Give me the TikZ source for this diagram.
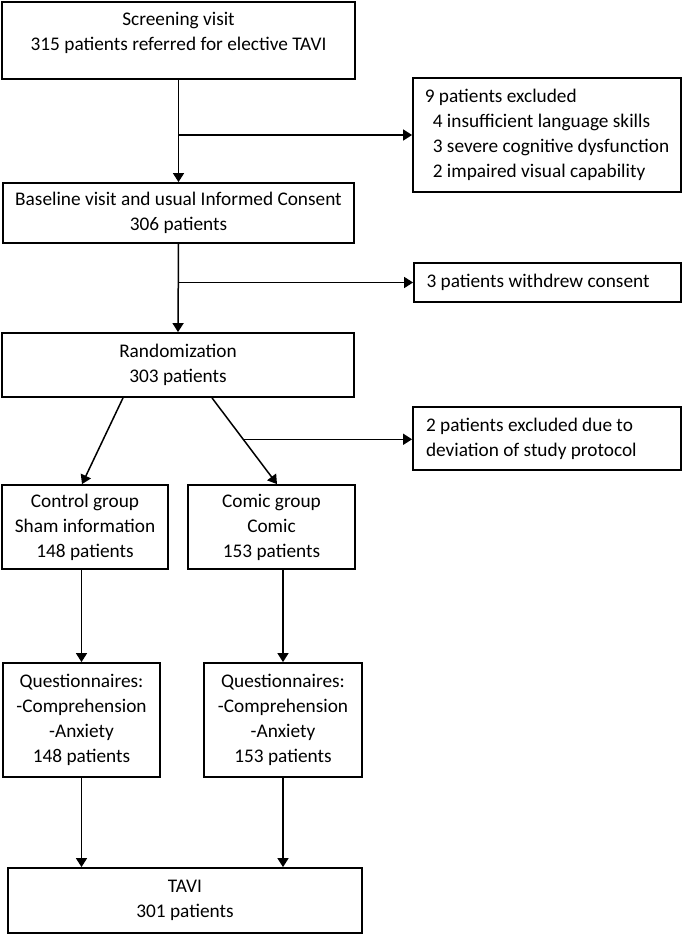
\documentclass[tikz,border=0pt]{standalone}
\usepackage{fontspec}
\setmainfont{Carlito}
\usepackage{tikz}
\usetikzlibrary{arrows.meta}

\begin{document}
\begin{tikzpicture}[x=1pt, y=-1pt,
    txt/.style={align=center, inner sep=0pt, font=\fontsize{19.3}{25}\selectfont},
    box/.style={draw, line width=1.8pt, txt},
    listbox/.style={box, align=flush left},
    sidebox/.style={listbox, text width=242pt},
    arr/.style={line width=1.5pt, -{Triangle[width=11pt,length=9pt]}}]
\useasboundingbox (0,0) rectangle (685,935);

% main column
\node[box, minimum width=353pt, minimum height=77pt,
      label={[txt, yshift=7.5pt]center:Screening visit\\315 patients referred for elective TAVI}] (screen) at (178.5,40.5) {};
\node[box, minimum width=351pt, minimum height=60pt] (base) at (178.5,213) {Baseline visit and usual Informed Consent\\306 patients};
\node[box, minimum width=352pt, minimum height=64pt] (rand) at (178,365) {Randomization\\303 patients};

% exclusions
\node[listbox, minimum width=268pt, minimum height=114pt] (excl) at (547,135) {9 patients excluded\\\hspace*{8pt}4 insufficient language skills\\\hspace*{8pt}3 severe cognitive dysfunction\\\hspace*{8pt}2 impaired visual capability};
\node[sidebox, minimum width=267pt, minimum height=39pt] (withdrew) at (547.5,282.5) {3 patients withdrew consent};
\node[sidebox, minimum width=268pt, minimum height=63pt] (prot) at (547,438.5) {2 patients excluded due to\\deviation of study protocol};

% groups
\node[box, minimum width=166pt, minimum height=84pt] (ctrl) at (85,527) {Control group\\Sham information\\148 patients};
\node[box, minimum width=167pt, minimum height=84pt] (comic) at (271.5,527) {Comic group\\Comic\\153 patients};
\node[box, minimum width=157pt, minimum height=114pt] (quest1) at (81.5,720) {Questionnaires:\\-Comprehension\\-Anxiety\\148 patients};
\node[box, minimum width=158pt, minimum height=114pt] (quest2) at (283,720) {Questionnaires:\\-Comprehension\\-Anxiety\\153 patients};
\node[box, minimum width=354pt, minimum height=65pt] (tavi) at (185,900.5) {TAVI\\301 patients};

\draw[arr] (screen.south) -- (base.north);
\draw[arr] (screen.south |- excl.west) -- (excl.west);
\draw[arr] (base.south) -- (rand.north);
\draw[arr] (base.south |- withdrew.west) -- (withdrew.west);

\draw[arr] ([xshift=-55pt]rand.south) -- ([xshift=-3pt]ctrl.north);
\draw[arr] ([xshift=34pt]rand.south) -- ([xshift=5.5pt]comic.north) coordinate[pos=.48] (split);
\draw[arr] (split) -- (split -| prot.west);

\draw[arr] (ctrl.south -| quest1.north) -- (quest1.north);
\draw[arr] (comic.south -| quest2.north) -- (quest2.north);
\draw[arr] (quest1.south) -- (quest1.south |- tavi.north);
\draw[arr] (quest2.south) -- (quest2.south |- tavi.north);
\end{tikzpicture}
\end{document}
